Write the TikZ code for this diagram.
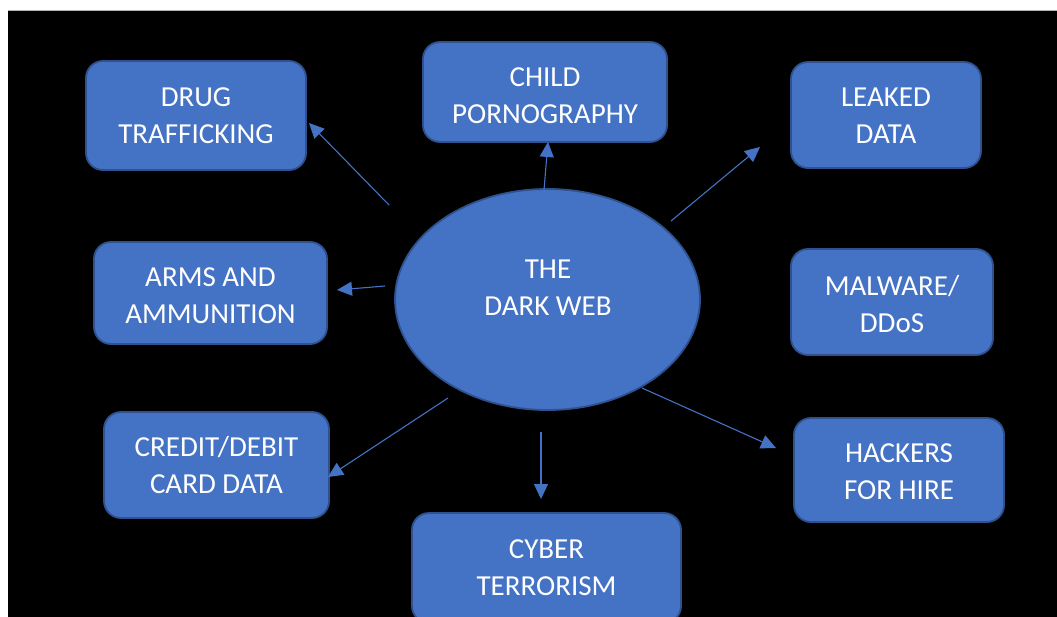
\documentclass[tikz,border=0pt]{standalone}
\usepackage{fontspec}
\setmainfont{Carlito}
\usetikzlibrary{arrows.meta,shapes.geometric}
\definecolor{offblue}{HTML}{4472C4}
\definecolor{offedge}{HTML}{2F528F}
\begin{document}
\begin{tikzpicture}[x=1pt,y=-1pt,
  topic/.style={draw=offedge, line width=1.8pt, fill=offblue, rounded corners=17pt, inner sep=0pt},
  caption/.style={text=white, align=center, inner sep=0pt, font=\fontsize{29}{37}\selectfont},
  hub/.style={ellipse, draw=offedge, line width=1.8pt, fill=offblue, inner sep=0pt},
  link/.style={draw=offblue, line width=1.1pt, -{Triangle[length=15pt,width=14pt]}}]
\useasboundingbox (0,0) rectangle (1057,616);
\fill[white] (0,0) rectangle (1057,616);
\clip (0,0) rectangle (1057,620);
\fill[black] (8,10) rectangle (1060,620);
\draw[gray!60, line width=0.6pt] (8,10) -- (1057,10);
% hub
\node[hub, minimum width=305pt, minimum height=221pt] (web) at (547.5,299.5) {};
\node[caption] (webT) at (548,288) {THE\\DARK WEB};
% topic boxes
\node[topic, minimum width=220pt, minimum height=109pt] (drug) at (196,115.5) {};
\node[topic, minimum width=244pt, minimum height=100pt] (child) at (545,92) {};
\node[topic, minimum width=190pt, minimum height=106pt] (leaked) at (886,115) {};
\node[topic, minimum width=233pt, minimum height=102pt] (arms) at (210.5,293) {};
\node[topic, minimum width=202pt, minimum height=106pt] (malware) at (892,302) {};
\node[topic, minimum width=225pt, minimum height=106pt] (credit) at (216.5,465) {};
\node[topic, minimum width=210pt, minimum height=104pt] (hackers) at (899,470) {};
\node[topic, minimum width=269pt, minimum height=110pt] (cyber) at (546.5,568) {};
% captions
\node[caption] (drugT) at (drug.center) {DRUG\\TRAFFICKING};
\node[caption, yshift=-3.5pt] (childT) at (child.center) {CHILD\\PORNOGRAPHY};
\node[caption, yshift=-1pt] (leakedT) at (leaked.center) {LEAKED\\DATA};
\node[caption, yshift=-3pt] (armsT) at (arms.center) {ARMS AND\\AMMUNITION};
\node[caption, yshift=-2pt] (malwareT) at (malware.center) {MALWARE/\\DDoS};
\node[caption] (creditT) at (credit.center) {CREDIT/DEBIT\\CARD DATA};
\node[caption, yshift=-2pt] (hackersT) at (hackers.center) {HACKERS\\FOR HIRE};
\node[caption] (cyberT) at (cyber.center) {CYBER\\TERRORISM};
% connector end points
\coordinate (s1) at (389,205); \coordinate (t1) at (309,123);
\coordinate (s2) at (544,190); \coordinate (t2) at (548,142);
\coordinate (s3) at (671,221); \coordinate (t3) at (760,147);
\coordinate (s4) at (385,286); \coordinate (t4) at (337,290);
\coordinate (s5) at (448,398); \coordinate (t5) at (328,477);
\coordinate (s6) at (541,432); \coordinate (t6) at (541,499);
\coordinate (s7) at (642,388); \coordinate (t7) at (776,448);
\draw[link] (s1) -- (t1);
\draw[link] (s2) -- (t2);
\draw[link] (s3) -- (t3);
\draw[link] (s4) -- (t4);
\draw[link] (s5) -- (t5);
\draw[link] (s6) -- (t6);
\draw[link] (s7) -- (t7);
\end{tikzpicture}
\end{document}
